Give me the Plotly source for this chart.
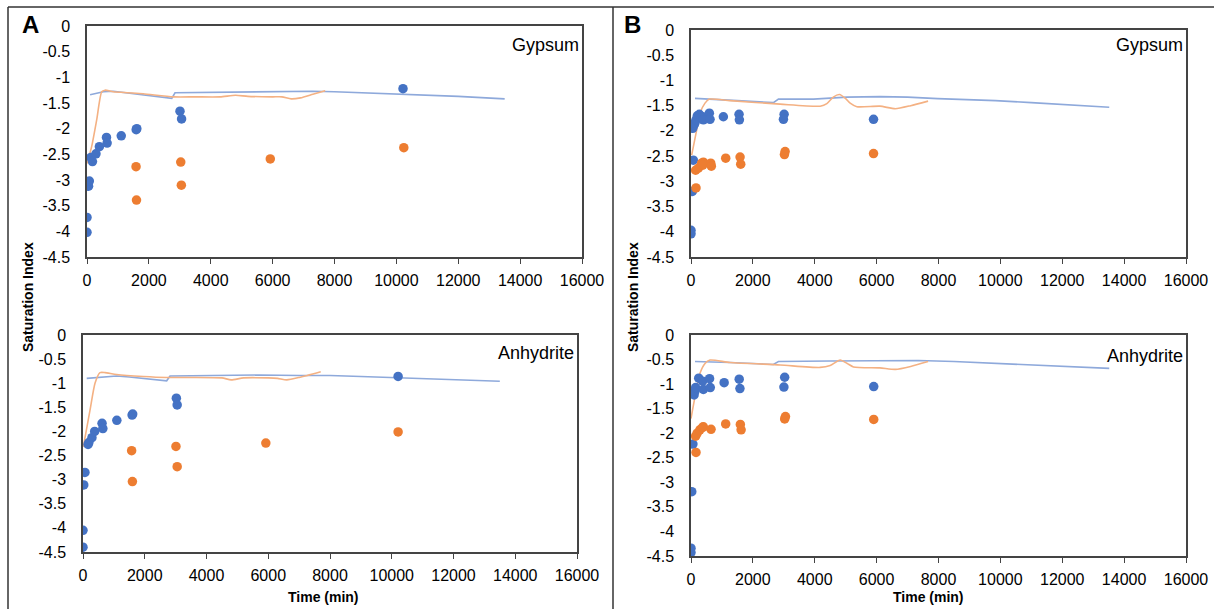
import plotly.graph_objects as go

W, H = 1214, 609

# ---------------- DATA ----------------
# Panel A - Gypsum
a_gyp_blue_x = [0, 0, 50, 75, 125, 176, 290, 400, 630, 650, 1107, 1590, 1610, 3006, 3057, 10214]
a_gyp_blue_y = [-4.02, -3.73, -3.12, -3.02, -2.56, -2.64, -2.49, -2.35, -2.17, -2.28, -2.14, -2.02, -2.00, -1.66, -1.81, -1.22]
a_gyp_orng_x = [1585, 1600, 3031, 3050, 5925, 10240]
a_gyp_orng_y = [-2.74, -3.39, -2.65, -3.10, -2.59, -2.37]
a_gyp_bline_x = [100, 300, 530, 850, 1300, 1820, 2300, 2740, 2845, 4000, 5000, 5600, 6500, 7300, 8000, 9000, 10000, 11000, 12000, 13500]
a_gyp_bline_y = [-1.34, -1.31, -1.28, -1.27, -1.30, -1.34, -1.37, -1.41, -1.30, -1.29, -1.28, -1.28, -1.27, -1.27, -1.28, -1.30, -1.33, -1.35, -1.37, -1.42]
a_gyp_oline_x = [0, 150, 313, 475, 582, 850, 1300, 1820, 2790, 3500, 4300, 4800, 5200, 6000, 6300, 6600, 6900, 7300, 7700]
a_gyp_oline_y = [-2.68, -2.35, -1.83, -1.28, -1.25, -1.28, -1.30, -1.32, -1.38, -1.38, -1.38, -1.35, -1.37, -1.38, -1.38, -1.42, -1.40, -1.33, -1.26]

# Panel A - Anhydrite
a_anh_blue_x = [0, 0, 25, 63, 164, 190, 290, 378, 617, 643, 1096, 1590, 1610, 3024, 3050, 10206]
a_anh_blue_y = [-4.40, -4.05, -3.11, -2.85, -2.27, -2.23, -2.13, -2.00, -1.83, -1.94, -1.77, -1.66, -1.64, -1.31, -1.45, -0.86]
a_anh_orng_x = [1575, 1600, 3011, 3050, 5922, 10206]
a_anh_orng_y = [-2.40, -3.04, -2.31, -2.73, -2.24, -2.01]
a_anh_bline_x = [120, 550, 1090, 1500, 1953, 2400, 2710, 2818, 4000, 5733, 7000, 8000, 9000, 10000, 11000, 12000, 13500]
a_anh_bline_y = [-0.90, -0.88, -0.85, -0.87, -0.90, -0.93, -0.95, -0.85, -0.84, -0.83, -0.84, -0.84, -0.86, -0.88, -0.90, -0.92, -0.96]
a_anh_oline_x = [10, 227, 389, 550, 713, 1090, 1953, 2710, 3500, 4500, 4800, 5200, 6000, 6300, 6600, 7000, 7700]
a_anh_oline_y = [-2.32, -1.56, -1.00, -0.78, -0.78, -0.82, -0.86, -0.88, -0.88, -0.89, -0.93, -0.89, -0.89, -0.90, -0.93, -0.88, -0.76]

# Panel B - Gypsum
b_gyp_blue_x = [0, 0, 43, 75, 55, 100, 129, 162, 205, 270, 378, 400, 593, 615, 1046, 1553, 1564, 3010, 2988, 5900]
b_gyp_blue_y = [-3.97, -4.04, -3.20, -2.58, -1.95, -1.88, -1.84, -1.78, -1.70, -1.67, -1.72, -1.78, -1.65, -1.77, -1.72, -1.67, -1.78, -1.67, -1.77, -1.77]
b_gyp_orng_x = [162, 150, 237, 345, 400, 380, 637, 657, 1122, 1586, 1607, 3042, 3020, 5900]
b_gyp_orng_y = [-3.13, -2.78, -2.74, -2.64, -2.62, -2.68, -2.64, -2.70, -2.54, -2.52, -2.66, -2.41, -2.47, -2.45]
b_gyp_bline_x = [129, 508, 1500, 2663, 2826, 3958, 5038, 6117, 7000, 7974, 9000, 9843, 11000, 12000, 13519]
b_gyp_bline_y = [-1.355, -1.37, -1.40, -1.44, -1.37, -1.37, -1.33, -1.32, -1.33, -1.36, -1.38, -1.40, -1.44, -1.48, -1.53]
b_gyp_oline_x = [22, 184, 291, 453, 593, 1262, 2880, 4175, 4392, 4600, 4800, 5000, 5145, 5362, 6105, 6604, 7100, 7663]
b_gyp_oline_y = [-2.48, -1.98, -1.65, -1.45, -1.37, -1.40, -1.47, -1.51, -1.46, -1.33, -1.28, -1.36, -1.45, -1.52, -1.51, -1.56, -1.50, -1.41]

# Panel B - Anhydrite
b_anh_blue_x = [0, 0, 25, 62, 100, 125, 150, 250, 374, 400, 600, 623, 1072, 1558, 1582, 3028, 3003, 5906]
b_anh_blue_y = [-4.34, -4.43, -3.19, -2.22, -1.22, -1.15, -1.07, -0.88, -0.94, -1.11, -0.89, -1.07, -0.97, -0.90, -1.09, -0.86, -1.06, -1.05]
b_anh_orng_x = [162, 150, 200, 287, 374, 400, 648, 1121, 1595, 1620, 3053, 3028, 5906]
b_anh_orng_y = [-2.39, -2.06, -2.00, -1.93, -1.88, -1.87, -1.92, -1.81, -1.82, -1.93, -1.66, -1.71, -1.72]
b_anh_bline_x = [129, 1262, 2663, 2826, 4500, 6117, 7351, 8500, 9843, 11000, 12000, 13519]
b_anh_bline_y = [-0.54, -0.56, -0.60, -0.54, -0.53, -0.52, -0.52, -0.54, -0.58, -0.61, -0.64, -0.68]
b_anh_oline_x = [0, 129, 291, 453, 615, 1262, 2880, 4175, 4500, 4822, 5050, 5252, 6105, 6604, 7100, 7663]
b_anh_oline_y = [-1.70, -1.26, -0.78, -0.58, -0.51, -0.56, -0.61, -0.66, -0.62, -0.51, -0.58, -0.65, -0.67, -0.70, -0.64, -0.54]

x_tickvals = [0, 2000, 4000, 6000, 8000, 10000, 12000, 14000, 16000]
x_ticktext = ["0", "2000", "4000", "6000", "8000", "10000", "12000", "14000", "16000"]
y_tickvals = [0, -0.5, -1, -1.5, -2, -2.5, -3, -3.5, -4, -4.5]
y_ticktext = ["0", "-0.5", "-1", "-1.5", "-2", "-2.5", "-3", "-3.5", "-4", "-4.5"]

mineral_labels = ["Gypsum", "Anhydrite", "Gypsum", "Anhydrite"]
panel_letters = ["A", "B"]
x_title = "Time (min)"
y_title = "Saturation Index"

BLUE_DOT = "#4472C4"
ORNG_DOT = "#ED7D31"
BLUE_LINE = "#8EA9DB"
ORNG_LINE = "#F4B183"
FONT = "Liberation Sans, Arial, sans-serif"

# pixel boxes: (left, right, top, bottom)
boxes = [
    (87, 582, 26, 257),
    (83, 577, 335, 552),
    (691, 1186, 30, 257),
    (691, 1186, 335, 556),
]
label_y = [0.918, 0.917, 0.934, 0.905]

panels = [
    (a_gyp_bline_x, a_gyp_bline_y, a_gyp_oline_x, a_gyp_oline_y, a_gyp_blue_x, a_gyp_blue_y, a_gyp_orng_x, a_gyp_orng_y),
    (a_anh_bline_x, a_anh_bline_y, a_anh_oline_x, a_anh_oline_y, a_anh_blue_x, a_anh_blue_y, a_anh_orng_x, a_anh_orng_y),
    (b_gyp_bline_x, b_gyp_bline_y, b_gyp_oline_x, b_gyp_oline_y, b_gyp_blue_x, b_gyp_blue_y, b_gyp_orng_x, b_gyp_orng_y),
    (b_anh_bline_x, b_anh_bline_y, b_anh_oline_x, b_anh_oline_y, b_anh_blue_x, b_anh_blue_y, b_anh_orng_x, b_anh_orng_y),
]

fig = go.Figure()
layout = dict(
    width=W, height=H, margin=dict(l=0, r=0, t=0, b=0, pad=0, autoexpand=False),
    paper_bgcolor="white", plot_bgcolor="white", showlegend=False,
    font=dict(family=FONT, color="black", size=16),
)
annotations = []

for i, (bx, by, ox, oy, dbx, dby, dox, doy) in enumerate(panels):
    n = "" if i == 0 else str(i + 1)
    xa, ya = "x" + n, "y" + n
    l, r, t, b = boxes[i]
    layout["xaxis" + n] = dict(
        domain=[l / W, r / W], anchor=ya, range=[0, 16000],
        tickvals=x_tickvals, ticktext=x_ticktext, ticks="outside", ticklen=5,
        tickcolor="#444", showline=True, linecolor="#444", linewidth=1.5,
        mirror=True, showgrid=False, zeroline=False, fixedrange=True,
        tickfont=dict(size=16), ticklabelstandoff=3, automargin=False,
    )
    layout["yaxis" + n] = dict(
        domain=[(H - b) / H, (H - t) / H], anchor=xa, range=[-4.5, 0],
        tickvals=y_tickvals, ticktext=y_ticktext, ticks="",
        showline=True, linecolor="#444", linewidth=1.5, mirror=True,
        showgrid=False, zeroline=False, fixedrange=True,
        tickfont=dict(size=16), ticklabelstandoff=12, automargin=False,
    )
    fig.add_trace(go.Scatter(x=bx, y=by, xaxis=xa, yaxis=ya, mode="lines",
                             line=dict(color=BLUE_LINE, width=1.6), hoverinfo="skip"))
    fig.add_trace(go.Scatter(x=ox, y=oy, xaxis=xa, yaxis=ya, mode="lines",
                             line=dict(color=ORNG_LINE, width=1.6, shape="spline", smoothing=0.6),
                             hoverinfo="skip"))
    fig.add_trace(go.Scatter(x=dbx, y=dby, xaxis=xa, yaxis=ya, mode="markers",
                             marker=dict(color=BLUE_DOT, size=9.5)))
    fig.add_trace(go.Scatter(x=dox, y=doy, xaxis=xa, yaxis=ya, mode="markers",
                             marker=dict(color=ORNG_DOT, size=9.5)))
    annotations.append(dict(
        text=mineral_labels[i], xref=xa + " domain", yref=ya + " domain",
        x=1, y=label_y[i], xanchor="right", yanchor="middle", xshift=-1,
        showarrow=False, font=dict(size=18, family=FONT),
    ))

# panel letters, axis titles
for j, (lx, tx, sx) in enumerate([(30, 323, 28), (632, 928, 633)]):
    annotations.append(dict(text="<b>%s</b>" % panel_letters[j], xref="paper", yref="paper",
                            x=lx / W, y=(H - 25) / H, xanchor="center", yanchor="middle",
                            showarrow=False, font=dict(size=24, family=FONT)))
    annotations.append(dict(text="<b>%s</b>" % x_title, xref="paper", yref="paper",
                            x=tx / W, y=(H - 597) / H, xanchor="center", yanchor="middle",
                            showarrow=False, font=dict(size=14, family=FONT)))
    annotations.append(dict(text="<b>%s</b>" % y_title, xref="paper", yref="paper",
                            x=sx / W, y=(H - 297) / H, xanchor="center", yanchor="middle",
                            textangle=-90, showarrow=False, font=dict(size=14, family=FONT)))

layout["annotations"] = annotations
layout["shapes"] = [
    dict(type="line", xref="paper", yref="paper", x0=8 / W, x1=1, y0=(H - 7) / H, y1=(H - 7) / H,
         line=dict(color="#333", width=1.5)),
    dict(type="line", xref="paper", yref="paper", x0=8 / W, x1=8 / W, y0=0, y1=(H - 7) / H,
         line=dict(color="#333", width=1.5)),
    dict(type="line", xref="paper", yref="paper", x0=613 / W, x1=613 / W, y0=0, y1=(H - 7) / H,
         line=dict(color="#333", width=1.5)),
]
fig.update_layout(**layout)
fig.write_html("out.html")
